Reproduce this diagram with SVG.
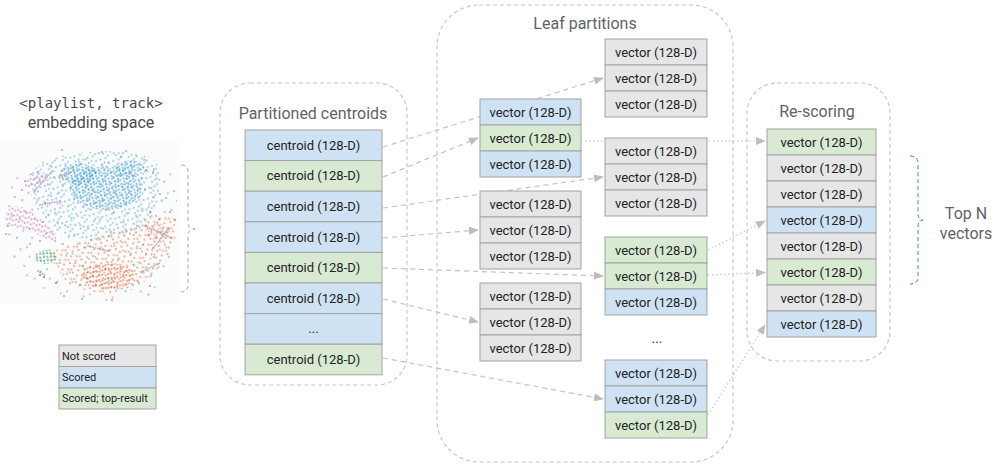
<svg xmlns="http://www.w3.org/2000/svg" width="1000" height="471" viewBox="0 0 1000 471">
<style>
.t{font-family:Roboto,"Liberation Sans",sans-serif;font-size:13px;fill:#222;text-anchor:middle;dominant-baseline:central}
.ttl{font-family:Roboto,"Liberation Sans",sans-serif;font-size:16px;fill:#5f6368;text-anchor:middle}
.lg{font-family:Roboto,"Liberation Sans",sans-serif;font-size:11px;fill:#222;dominant-baseline:central}
.b{fill:#cfe2f3;stroke:#a3a3a3;stroke-width:1}
.g{fill:#d9ead3;stroke:#a3a3a3;stroke-width:1}
.n{fill:#e6e6e6;stroke:#a3a3a3;stroke-width:1}
.box{fill:none;stroke:#c8c8c8;stroke-width:1.2;stroke-dasharray:4 3}
.dash{fill:none;stroke:#c4c4c4;stroke-width:1.2;stroke-dasharray:5 4}
.dot{fill:none;stroke:#c4c4c4;stroke-width:1.2;stroke-dasharray:1.5 2.5}
.streak{fill:none;stroke-width:1.8;stroke-linecap:round;stroke-dasharray:0.1 2.4;stroke-opacity:0.6}
</style>
<defs>
<marker id="ah" markerWidth="10" markerHeight="8" refX="9" refY="4" orient="auto" markerUnits="userSpaceOnUse">
<path d="M0,0 L10,4 L0,8 Z" fill="#bdbdbd"/>
</marker>
<pattern id="pb" width="13" height="11" patternUnits="userSpaceOnUse" patternTransform="rotate(7)">
<g fill="#3ea3dc" fill-opacity="0.6"><circle cx="2" cy="3" r="1"/><circle cx="7" cy="1" r="1"/><circle cx="11" cy="5" r="1"/><circle cx="4" cy="8" r="1"/><circle cx="9" cy="9.5" r="1"/><circle cx="6.5" cy="5.5" r="1"/></g>
</pattern>
<pattern id="pb2" width="7" height="6" patternUnits="userSpaceOnUse" patternTransform="rotate(23)">
<g fill="#2f9ad6" fill-opacity="0.7"><circle cx="1.5" cy="2" r="1"/><circle cx="5" cy="1" r="1"/><circle cx="3.5" cy="4.5" r="1"/><circle cx="6.3" cy="5" r="0.9"/></g>
</pattern>
<pattern id="po" width="12" height="10" patternUnits="userSpaceOnUse" patternTransform="rotate(-17)">
<g fill="#e06a35" fill-opacity="0.65"><circle cx="2" cy="2" r="1"/><circle cx="8" cy="1.5" r="1"/><circle cx="5" cy="6" r="1"/><circle cx="10.5" cy="7.5" r="1"/><circle cx="1.5" cy="8.5" r="1"/></g>
</pattern>
<pattern id="po2" width="7" height="6" patternUnits="userSpaceOnUse" patternTransform="rotate(31)">
<g fill="#d9602c" fill-opacity="0.75"><circle cx="1.5" cy="1.5" r="1"/><circle cx="5" cy="2.8" r="1"/><circle cx="3" cy="5" r="1"/></g>
</pattern>
<pattern id="pp" width="6" height="5" patternUnits="userSpaceOnUse" patternTransform="rotate(12)">
<g fill="#c462ac" fill-opacity="0.7"><circle cx="1.5" cy="1.5" r="1"/><circle cx="4.5" cy="3" r="1"/></g>
</pattern>
<pattern id="pg" width="5" height="5" patternUnits="userSpaceOnUse" patternTransform="rotate(40)">
<g fill="#23875a" fill-opacity="0.8"><circle cx="1.5" cy="1.5" r="1"/><circle cx="3.8" cy="3.5" r="1"/></g>
</pattern>
<pattern id="pgs" width="23" height="19" patternUnits="userSpaceOnUse" patternTransform="rotate(8)">
<g fill-opacity="0.6"><circle cx="4" cy="5" r="1" fill="#2e9a5a"/><circle cx="15" cy="13" r="1" fill="#8a8a8a"/><circle cx="19" cy="3" r="1" fill="#c462ac"/><circle cx="9" cy="16" r="1" fill="#3ea3dc"/></g>
</pattern>
</defs>

<g id="embedding">
<rect x="0" y="142" width="181" height="162" fill="#fcfcfc"/>
<text class="ttl" x="91" y="108" style="font-family:'DejaVu Sans Mono','Liberation Mono',monospace;font-size:14px;fill:#4a4a4a">&lt;playlist, track&gt;</text>
<text class="ttl" x="91" y="128" style="fill:#4a4a4a">embedding space</text>
<path d="M30,172 C55,150 120,146 152,158 C168,172 162,205 142,228 C120,242 80,242 62,234 C42,222 24,196 30,172 Z" fill="url(#pb)"/>
<ellipse cx="106" cy="188" rx="36" ry="22" fill="url(#pb2)"/>
<ellipse cx="78" cy="174" rx="18" ry="11" fill="url(#pb2)"/>
<ellipse cx="130" cy="168" rx="14" ry="8" fill="url(#pb2)"/>
<path d="M48,255 C70,238 110,236 140,220 C155,212 174,212 176,228 C177,252 160,270 135,289 C115,297 85,294 66,282 Z" fill="url(#po)"/>
<ellipse cx="108" cy="276" rx="27" ry="13" fill="url(#po2)"/>
<ellipse cx="158" cy="232" rx="13" ry="9" fill="url(#po2)" fill-opacity="0.6"/>
<path d="M5,214 C10,204 22,204 34,214 C44,222 54,228 58,237 C54,243 44,239 32,231 C22,227 12,229 5,222 Z" fill="url(#pp)"/>
<ellipse cx="36" cy="180" rx="13" ry="6" fill="url(#pp)" transform="rotate(-25 36 180)"/>
<ellipse cx="46" cy="257" rx="11" ry="7" fill="url(#pg)"/>
<path d="M10,180 C40,150 130,140 172,168 C182,210 180,262 152,297 C110,306 60,302 30,282 C5,262 2,212 10,180 Z" fill="url(#pgs)"/>
<g fill-opacity="0.7">
<circle cx="62" cy="150" r="1" fill="#3ea3dc"/><circle cx="102" cy="152" r="1" fill="#3ea3dc"/><circle cx="126" cy="151" r="1" fill="#3ea3dc"/>
<circle cx="146" cy="170" r="1" fill="#2e9a5a"/><circle cx="153" cy="173" r="1" fill="#2e9a5a"/><circle cx="22" cy="190" r="1" fill="#c462ac"/>
<circle cx="8" cy="226" r="1.1" fill="#c462ac"/><circle cx="6" cy="234" r="1" fill="#c462ac"/><circle cx="30" cy="244" r="1" fill="#3ea3dc"/>
<circle cx="40" cy="275" r="1" fill="#555"/><circle cx="44" cy="277" r="1" fill="#555"/><circle cx="56" cy="283" r="1.1" fill="#1d6fb8"/>
<circle cx="170" cy="212" r="1" fill="#e06a35"/><circle cx="175" cy="220" r="1" fill="#e06a35"/><circle cx="82" cy="299" r="1" fill="#3ea3dc"/>
<circle cx="112" cy="300" r="1" fill="#e06a35"/><circle cx="64" cy="296" r="1" fill="#e06a35"/><circle cx="150" cy="286" r="1" fill="#e06a35"/>
<circle cx="160" cy="194" r="1" fill="#3ea3dc"/><circle cx="166" cy="198" r="1" fill="#3ea3dc"/><circle cx="150" cy="212" r="1" fill="#2e9a5a"/>
</g>
<path class="streak" stroke="#8c8c8c" d="M34,192 L52,171"/>
<path class="streak" stroke="#8c8c8c" d="M145,226 L172,238 M152,250 L168,229 M88,246 L108,251 M141,272 L160,263 M60,178 L75,170"/>
<path class="streak" stroke="#c462ac" d="M40,205 L60,201"/>
<path class="streak" stroke="#2e9a5a" d="M38,271 L46,276"/>
</g>
<path d="M181,165 Q188,165 188,172 L188,222 Q188,229 195,229 Q188,229 188,236 L188,285 Q188,292 181,292" fill="none" stroke="#a8a8a8" stroke-width="1" stroke-dasharray="4 3"/>

<g id="legend">
<rect class="n" x="59" y="345" width="97" height="21.5"/>
<rect class="b" x="59" y="366.5" width="97" height="21.5"/>
<rect class="g" x="59" y="388" width="97" height="21"/>
<text class="lg" x="62" y="356">Not scored</text>
<text class="lg" x="62" y="377">Scored</text>
<text class="lg" x="62" y="398.5">Scored; top-result</text>
</g>

<g id="containers">
<rect class="box" x="220" y="83" width="187" height="302" rx="30"/>
<rect class="box" x="437" y="5" width="296" height="457" rx="42"/>
<rect class="box" x="747" y="83" width="143" height="278" rx="30"/>
<text class="ttl" x="313" y="119">Partitioned centroids</text>
<text class="ttl" x="585" y="29">Leaf partitions</text>
<text class="ttl" x="817" y="117">Re-scoring</text>
</g>

<g id="connectors">
<line class="dash" x1="383" y1="147" x2="603" y2="78" marker-end="url(#ah)"/>
<line class="dash" x1="383" y1="177" x2="478" y2="138" marker-end="url(#ah)"/>
<line class="dash" x1="383" y1="208" x2="603" y2="177" marker-end="url(#ah)"/>
<line class="dash" x1="383" y1="238" x2="478" y2="230" marker-end="url(#ah)"/>
<line class="dash" x1="383" y1="268" x2="603" y2="276" marker-end="url(#ah)"/>
<line class="dash" x1="383" y1="299" x2="478" y2="322" marker-end="url(#ah)"/>
<line class="dash" x1="383" y1="358" x2="603" y2="399" marker-end="url(#ah)"/>
<line class="dot" x1="581" y1="141" x2="765" y2="141" marker-end="url(#ah)"/>
<line class="dot" x1="708" y1="250" x2="765" y2="221" marker-end="url(#ah)"/>
<line class="dot" x1="708" y1="275" x2="765" y2="272.5" marker-end="url(#ah)"/>
<line class="dot" x1="708" y1="415" x2="765" y2="325" marker-end="url(#ah)"/>
</g>

<g id="centroids">
<rect class="b" x="245" y="130" width="137" height="30.6"/>
<rect class="g" x="245" y="160.6" width="137" height="30.6"/>
<rect class="b" x="245" y="191.2" width="137" height="30.6"/>
<rect class="b" x="245" y="221.8" width="137" height="30.6"/>
<rect class="g" x="245" y="252.4" width="137" height="30.6"/>
<rect class="b" x="245" y="283" width="137" height="30.6"/>
<rect class="b" x="245" y="313.6" width="137" height="30.6"/>
<rect class="g" x="245" y="344.2" width="137" height="30.6"/>
<text class="t" x="313.5" y="145.3">centroid (128-D)</text>
<text class="t" x="313.5" y="175.9">centroid (128-D)</text>
<text class="t" x="313.5" y="206.5">centroid (128-D)</text>
<text class="t" x="313.5" y="237.1">centroid (128-D)</text>
<text class="t" x="313.5" y="267.7">centroid (128-D)</text>
<text class="t" x="313.5" y="298.3">centroid (128-D)</text>
<text class="t" x="313.5" y="328.9">...</text>
<text class="t" x="313.5" y="359.5">centroid (128-D)</text>
</g>

<g id="leaf-l1">
<rect class="b" x="480" y="99" width="101" height="26"/>
<rect class="g" x="480" y="125" width="101" height="26"/>
<rect class="b" x="480" y="151" width="101" height="26"/>
<text class="t" x="530.5" y="112">vector (128-D)</text>
<text class="t" x="530.5" y="138">vector (128-D)</text>
<text class="t" x="530.5" y="164">vector (128-D)</text>
</g>
<g id="leaf-l2">
<rect class="n" x="480" y="191" width="101" height="26"/>
<rect class="n" x="480" y="217" width="101" height="26"/>
<rect class="n" x="480" y="243" width="101" height="26"/>
<text class="t" x="530.5" y="204">vector (128-D)</text>
<text class="t" x="530.5" y="230">vector (128-D)</text>
<text class="t" x="530.5" y="256">vector (128-D)</text>
</g>
<g id="leaf-l3">
<rect class="n" x="480" y="283" width="101" height="26"/>
<rect class="n" x="480" y="309" width="101" height="26"/>
<rect class="n" x="480" y="335" width="101" height="26"/>
<text class="t" x="530.5" y="296">vector (128-D)</text>
<text class="t" x="530.5" y="322">vector (128-D)</text>
<text class="t" x="530.5" y="348">vector (128-D)</text>
</g>
<g id="leaf-r1">
<rect class="n" x="605" y="39" width="102" height="26"/>
<rect class="n" x="605" y="65" width="102" height="26"/>
<rect class="n" x="605" y="91" width="102" height="26"/>
<text class="t" x="656" y="52">vector (128-D)</text>
<text class="t" x="656" y="78">vector (128-D)</text>
<text class="t" x="656" y="104">vector (128-D)</text>
</g>
<g id="leaf-r2">
<rect class="n" x="605" y="138" width="102" height="26"/>
<rect class="n" x="605" y="164" width="102" height="26"/>
<rect class="n" x="605" y="190" width="102" height="26"/>
<text class="t" x="656" y="151">vector (128-D)</text>
<text class="t" x="656" y="177">vector (128-D)</text>
<text class="t" x="656" y="203">vector (128-D)</text>
</g>
<g id="leaf-r3">
<rect class="g" x="605" y="237" width="102" height="26"/>
<rect class="g" x="605" y="263" width="102" height="26"/>
<rect class="b" x="605" y="289" width="102" height="26"/>
<text class="t" x="656" y="250">vector (128-D)</text>
<text class="t" x="656" y="276">vector (128-D)</text>
<text class="t" x="656" y="302">vector (128-D)</text>
</g>
<g id="leaf-ellipsis">
<text class="t" x="657" y="338">...</text>
</g>
<g id="leaf-r4">
<rect class="b" x="605" y="360" width="102" height="26"/>
<rect class="b" x="605" y="386" width="102" height="26"/>
<rect class="g" x="605" y="412" width="102" height="26"/>
<text class="t" x="656" y="373">vector (128-D)</text>
<text class="t" x="656" y="399">vector (128-D)</text>
<text class="t" x="656" y="425">vector (128-D)</text>
</g>

<g id="rescoring">
<rect class="g" x="767" y="129" width="109" height="26"/>
<rect class="n" x="767" y="155" width="109" height="26"/>
<rect class="n" x="767" y="181" width="109" height="26"/>
<rect class="b" x="767" y="207" width="109" height="26"/>
<rect class="n" x="767" y="233" width="109" height="26"/>
<rect class="g" x="767" y="259" width="109" height="26"/>
<rect class="n" x="767" y="285" width="109" height="26"/>
<rect class="b" x="767" y="311" width="109" height="26"/>
<text class="t" x="821.5" y="142">vector (128-D)</text>
<text class="t" x="821.5" y="168">vector (128-D)</text>
<text class="t" x="821.5" y="194">vector (128-D)</text>
<text class="t" x="821.5" y="220">vector (128-D)</text>
<text class="t" x="821.5" y="246">vector (128-D)</text>
<text class="t" x="821.5" y="272">vector (128-D)</text>
<text class="t" x="821.5" y="298">vector (128-D)</text>
<text class="t" x="821.5" y="324">vector (128-D)</text>
</g>

<g id="top-n">
<path d="M910,156 Q918,156 918,163 L918,213 Q918,220 923,220 Q918,220 918,227 L918,277 Q918,284 910,284" fill="none" stroke="#4a7fd0" stroke-width="1" stroke-dasharray="4 3"/>
<text class="ttl" x="966" y="219">Top N</text>
<text class="ttl" x="966" y="239">vectors</text>
</g>
</svg>
